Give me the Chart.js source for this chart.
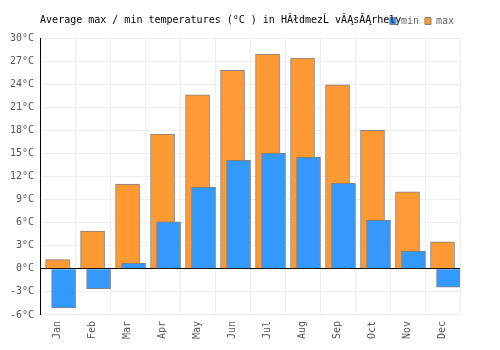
<!DOCTYPE html>
<html>
<head>
<meta charset="utf-8">
<script src="https://cdn.jsdelivr.net/npm/chart.js@4/dist/chart.umd.min.js"></script>
<style>
  body { margin: 0; background: #fff; }
</style>
</head>
<body>
<canvas id="chart" width="500" height="350"></canvas>
<script>
const months = ["Jan", "Feb", "Mar", "Apr", "May", "Jun", "Jul", "Aug", "Sep", "Oct", "Nov", "Dec"];
const maxTemps = [1.2, 4.9, 11.0, 17.5, 22.6, 25.8, 27.9, 27.4, 23.9, 18.0, 10.0, 3.5];
const minTemps = [-5.1, -2.6, 0.7, 6.1, 10.6, 14.1, 15.0, 14.5, 11.1, 6.3, 2.3, -2.4];
const titleText = "Average max / min temperatures (°C ) in HĂłdmezĹ vĂĄsĂĄrhely";

Chart.defaults.font.family = "'DejaVu Sans Mono', monospace";
Chart.defaults.font.size = 10;

// min bars sit a few pixels right of the max bars, so they get their own hidden axis
const shift = 6 / 35;

new Chart(document.getElementById('chart'), {
    type: 'bar',
    data: {
        labels: months,
        datasets: [
            {
                label: 'min',
                data: minTemps.map((v, i) => ({ x: i, y: v })),
                xAxisID: 'x2',
                grouped: false,
                backgroundColor: '#3399ff',
                borderColor: '#808080',
                borderWidth: 1,
                barThickness: 24,
            },
            {
                label: 'max',
                data: maxTemps,
                xAxisID: 'x',
                grouped: false,
                backgroundColor: '#ff9933',
                borderColor: '#808080',
                borderWidth: 1,
                barThickness: 24,
            },
        ]
    },
    options: {
        responsive: false,
        animation: false,
        layout: {
            padding: { top: 10, left: 4, right: 40, bottom: 5 },
        },
        scales: {
            x: {
                grid: { color: '#eeeeee', drawTicks: false },
                border: { color: '#eeeeee' },
                ticks: { color: '#555', padding: 6, minRotation: 90, maxRotation: 90 },
            },
            x2: {
                type: 'linear',
                display: false,
                offset: false,
                min: -0.5 - shift,
                max: 11.5 - shift,
            },
            y: {
                min: -6,
                max: 30,
                grid: {
                    drawTicks: false,
                    color: (ctx) => ctx.tick && ctx.tick.value === 0 ? '#000000' : '#eeeeee',
                },
                border: { color: '#000000' },
                ticks: {
                    stepSize: 3,
                    color: '#555',
                    padding: 6,
                    callback: (v) => v + '°C',
                },
            },
        },
        plugins: {
            legend: {
                align: 'end',
                weight: 3000,
                labels: {
                    boxWidth: 6,
                    boxHeight: 7,
                    padding: 6,
                    color: '#666',
                },
            },
            title: {
                display: true,
                text: titleText,
                align: 'start',
                fullSize: false,
                color: '#000',
                font: { size: 10, weight: 'normal' },
                padding: { top: -22, bottom: 12 },
            },
            tooltip: { enabled: false },
        },
    },
});
</script>
</body>
</html>
